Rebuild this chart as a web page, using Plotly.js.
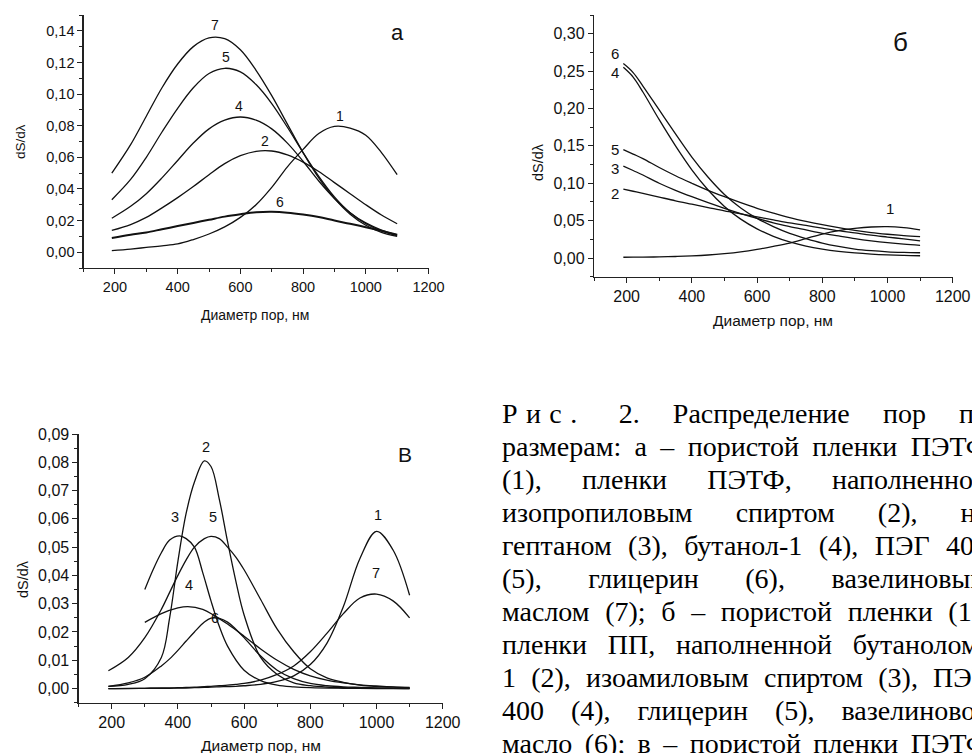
<!DOCTYPE html>
<html><head><meta charset="utf-8">
<script src="https://cdn.plot.ly/plotly-3.0.1.min.js"></script>
<style>
html,body{margin:0;padding:0;width:972px;height:753px;overflow:hidden;background:#fff;}
#chart{position:absolute;left:0;top:0;width:972px;height:753px;}
#caption{position:absolute;left:502px;top:397px;width:486px;font-family:"Liberation Serif","Times New Roman",serif;font-size:28px;line-height:33px;color:#000;}
#caption div{text-align:justify;text-align-last:justify;white-space:nowrap;}
.sp{letter-spacing:0.3em;}
</style></head><body>
<div id="chart"></div>
<div id="caption">
<div><span class="sp">Рис.</span> 2. Распределение пор по</div>
<div>размерам: а – пористой пленки ПЭТФ</div>
<div>(1), пленки ПЭТФ, наполненной</div>
<div>изопропиловым спиртом (2), на</div>
<div>гептаном (3), бутанол-1 (4), ПЭГ 400</div>
<div>(5), глицерин (6), вазелиновым</div>
<div>маслом (7); б – пористой пленки (1),</div>
<div>пленки ПП, наполненной бутанолом-</div>
<div>1 (2), изоамиловым спиртом (3), ПЭГ</div>
<div>400 (4), глицерин (5), вазелиновое</div>
<div>масло (6); в – пористой пленки ПЭТФ</div>
</div>
<script>
// ---------- Panel а ----------
const xA = [190,250,300,350,400,450,500,550,600,650,700,750,800,850,900,950,1000,1050,1100];
const a1 = [0.0010,0.0020,0.0030,0.0040,0.0052,0.0080,0.0115,0.0160,0.0220,0.0300,0.0410,0.0540,0.0650,0.0750,0.0795,0.0785,0.0740,0.0630,0.0490];
const a2 = [0.0138,0.0175,0.0220,0.0280,0.0345,0.0415,0.0490,0.0560,0.0610,0.0638,0.0640,0.0615,0.0570,0.0510,0.0440,0.0370,0.0300,0.0235,0.0180];
const a4 = [0.0215,0.0290,0.0370,0.0470,0.0580,0.0690,0.0780,0.0835,0.0855,0.0835,0.0780,0.0690,0.0575,0.0450,0.0340,0.0250,0.0185,0.0140,0.0110];
const a5 = [0.0332,0.0460,0.0600,0.0760,0.0910,0.1040,0.1130,0.1163,0.1140,0.1060,0.0940,0.0790,0.0630,0.0480,0.0350,0.0250,0.0180,0.0135,0.0105];
const a6 = [0.0090,0.0110,0.0125,0.0145,0.0165,0.0185,0.0205,0.0225,0.0240,0.0252,0.0255,0.0250,0.0238,0.0222,0.0200,0.0180,0.0158,0.0135,0.0110];
const a7 = [0.0500,0.0680,0.0860,0.1040,0.1190,0.1300,0.1355,0.1350,0.1280,0.1150,0.0990,0.0810,0.0630,0.0470,0.0340,0.0240,0.0170,0.0125,0.0100];

// ---------- Panel б ----------
const xB = [190,220,250,300,350,400,450,500,550,600,650,700,750,800,850,900,950,1000,1050,1100];
const b1 = [0.0010,0.0011,0.0012,0.0015,0.0020,0.0028,0.0040,0.0058,0.0082,0.0115,0.0155,0.0200,0.0260,0.0320,0.0365,0.0395,0.0415,0.0420,0.0405,0.0375];
const b2 = [0.0920,0.0893,0.0865,0.0815,0.0765,0.0720,0.0675,0.0630,0.0590,0.0550,0.0510,0.0470,0.0435,0.0400,0.0365,0.0335,0.0305,0.0280,0.0255,0.0230];
const b3 = [0.1230,0.1170,0.1110,0.1000,0.0905,0.0820,0.0740,0.0665,0.0595,0.0530,0.0470,0.0420,0.0375,0.0330,0.0295,0.0260,0.0230,0.0205,0.0185,0.0170];
const b4 = [0.2550,0.2420,0.2220,0.1850,0.1500,0.1180,0.0910,0.0690,0.0520,0.0390,0.0290,0.0215,0.0160,0.0120,0.0090,0.0068,0.0052,0.0041,0.0034,0.0030];
const b5 = [0.1450,0.1390,0.1330,0.1210,0.1100,0.1000,0.0905,0.0820,0.0740,0.0665,0.0600,0.0540,0.0490,0.0445,0.0405,0.0370,0.0340,0.0318,0.0300,0.0285];
const b6 = [0.2600,0.2480,0.2300,0.1980,0.1660,0.1350,0.1080,0.0850,0.0670,0.0530,0.0420,0.0330,0.0260,0.0200,0.0155,0.0120,0.0098,0.0083,0.0075,0.0070];

// ---------- Panel в ----------
const xC = [190,250,300,350,375,400,425,450,480,500,525,550,575,600,650,700,750,800,850,900,950,1000,1050,1100];
const c1 = [0.0000,0.0000,0.0001,0.0001,0.0001,0.0002,0.0002,0.0003,0.0004,0.0005,0.0006,0.0007,0.0008,0.0010,0.0015,0.0025,0.0045,0.0085,0.0160,0.0290,0.0460,0.0556,0.0490,0.0330];
const c2 = [0.0008,0.0015,0.0035,0.0110,0.0250,0.0450,0.0620,0.0730,0.0805,0.0785,0.0670,0.0520,0.0380,0.0260,0.0110,0.0050,0.0020,0.0010,0.0005,0.0003,0.0002,0.0001,0.0001,0.0000];
const xC3 = [300,325,350,375,405,425,450,475,500,525,550,600,650,700,750,800,900,1000,1100];
const c3 = [0.0350,0.0420,0.0480,0.0525,0.0540,0.0530,0.0500,0.0410,0.0310,0.0220,0.0150,0.0065,0.0028,0.0012,0.0006,0.0003,0.0001,0.0000,0.0000];
const xC4 = [300,350,400,430,475,510,550,600,650,700,750,800,850,900,950,1000,1050,1100];
const c4 = [0.0234,0.0265,0.0285,0.0290,0.0280,0.0258,0.0228,0.0185,0.0140,0.0100,0.0068,0.0045,0.0030,0.0020,0.0013,0.0009,0.0006,0.0004];
const c5 = [0.0063,0.0110,0.0180,0.0280,0.0340,0.0400,0.0455,0.0500,0.0530,0.0538,0.0530,0.0500,0.0465,0.0420,0.0315,0.0210,0.0130,0.0070,0.0038,0.0022,0.0012,0.0007,0.0005,0.0003];
const c6 = [0.0008,0.0020,0.0040,0.0080,0.0105,0.0135,0.0168,0.0200,0.0235,0.0249,0.0248,0.0235,0.0210,0.0180,0.0115,0.0065,0.0035,0.0018,0.0010,0.0006,0.0004,0.0002,0.0001,0.0001];
const c7 = [0.0000,0.0001,0.0001,0.0002,0.0002,0.0003,0.0004,0.0005,0.0007,0.0008,0.0010,0.0012,0.0015,0.0018,0.0030,0.0050,0.0080,0.0130,0.0195,0.0265,0.0320,0.0334,0.0310,0.0250];

const W = 972, H = 753;
const px = x => x / W, py = y => 1 - y / H;
const LC = '#111';
function tr(x, y, n, w) {
  return {x: x, y: y, xaxis: 'x' + (n > 1 ? n : ''), yaxis: 'y' + (n > 1 ? n : ''),
          mode: 'lines', line: {color: LC, width: w || 1.3, shape: 'spline', smoothing: 1}, hoverinfo: 'skip'};
}
const data = [
  tr(xA,a1,1), tr(xA,a2,1), tr(xA,a4,1), tr(xA,a5,1), tr(xA,a6,1,2), tr(xA,a7,1),
  tr(xB,b1,2), tr(xB,b2,2), tr(xB,b3,2), tr(xB,b4,2), tr(xB,b5,2), tr(xB,b6,2),
  tr(xC,c1,3), tr(xC,c2,3), tr(xC3,c3,3), tr(xC4,c4,3), tr(xC,c5,3), tr(xC,c6,3), tr(xC,c7,3)
];

const FONT = 'Liberation Sans, Arial, sans-serif';
function xax(x0, x1, fs) {
  return {domain: [px(x0), px(x1)], range: [100, 1200], dtick: 200, tick0: 0,
    tickformat: 'd', showline: true, linecolor: '#222', linewidth: 1.2, ticks: 'outside', ticklen: 5,
    tickcolor: '#222', tickwidth: 1, showgrid: false, zeroline: false, mirror: false,
    tickfont: {family: FONT, size: fs, color: '#111'},
    minor: {ticks: 'outside', ticklen: 3, dtick: 100, tickcolor: '#222', showgrid: false}};
}
function yax(y0, y1, r, dt, fs) {
  return {domain: [py(y1), py(y0)], range: r, dtick: dt, tick0: 0, tickformat: '.2f',
    showline: true, linecolor: '#222', linewidth: 1.2, ticks: 'outside', ticklen: 5,
    tickcolor: '#222', tickwidth: 1, showgrid: false, zeroline: false, mirror: false,
    tickfont: {family: FONT, size: fs, color: '#111'},
    minor: {ticks: 'outside', ticklen: 3, dtick: dt / 2, tickcolor: '#222', showgrid: false}};
}
function ann(t, x, y, fs, ang) {
  return {text: t, x: px(x), y: py(y), xref: 'paper', yref: 'paper', showarrow: false,
    xanchor: 'center', yanchor: 'middle', textangle: ang || 0,
    font: {family: FONT, size: fs, color: '#111'}};
}
const layout = {
  width: W, height: H, margin: {l: 0, r: 0, t: 0, b: 0}, paper_bgcolor: '#fff', plot_bgcolor: 'rgba(0,0,0,0)',
  showlegend: false, separators: ', ',
  xaxis: Object.assign(xax(83.6, 428.5, 14.5), {anchor: 'y'}),
  yaxis: Object.assign(yax(15, 268, [-0.01, 0.15], 0.02, 14.5), {anchor: 'x'}),
  xaxis2: Object.assign(xax(594, 952.7, 16), {anchor: 'y2'}),
  yaxis2: Object.assign(yax(15, 276.7, [-0.025, 0.325], 0.05, 16), {anchor: 'x2'}),
  xaxis3: Object.assign(xax(78.6, 442.7, 16), {anchor: 'y3'}),
  yaxis3: Object.assign(yax(434, 702.7, [-0.005, 0.09], 0.01, 16), {anchor: 'x3'}),
  annotations: [
    // panel а
    ann('а', 397, 33, 22), ann('7', 215, 25, 14), ann('5', 226, 57, 14), ann('4', 239, 106, 14),
    ann('2', 265, 141, 14), ann('6', 280, 202, 14), ann('1', 340, 116, 14),
    ann('Диаметр пор, нм', 255, 315, 14), ann('dS/dλ', 20, 142, 13.5, -90),
    // panel б
    ann('б', 900, 42, 26), ann('6', 615, 53, 15), ann('4', 615, 72, 15), ann('5', 615, 149, 15),
    ann('3', 615, 168, 15), ann('2', 615, 193, 15), ann('1', 890, 209, 15),
    ann('Диаметр пор, нм', 773, 320, 15.5), ann('dS/dλ', 538, 162, 14.5, -90),
    // panel в
    ann('В', 405, 454, 21), ann('2', 206, 447, 14.5), ann('3', 175, 517, 14.5), ann('5', 213, 517, 14.5),
    ann('4', 189, 585, 14.5), ann('6', 215, 618, 14.5), ann('1', 378, 515, 14.5), ann('7', 376, 573, 14.5),
    ann('Диаметр пор, нм', 261, 745, 15.5), ann('dS/dλ', 23, 579, 14.5, -90)
  ]
};
Plotly.newPlot('chart', data, layout, {staticPlot: true, displayModeBar: false});
</script>
</body></html>
